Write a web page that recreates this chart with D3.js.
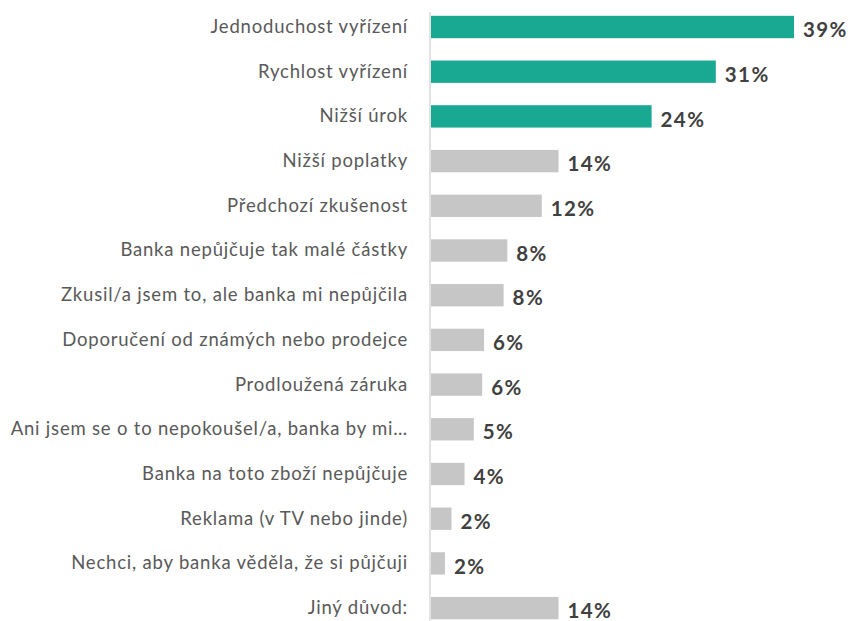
<!DOCTYPE html>
<html>
<head>
<meta charset="utf-8">
<script src="https://cdn.jsdelivr.net/npm/d3@7"></script>
<style>
	body { margin: 0; background: #fff; }
	.cat { font-family: Lato, sans-serif; font-size: 18.5px; letter-spacing: 0.8px; fill: #595959; }
	.val { font-family: Lato, sans-serif; font-size: 20.5px; letter-spacing: 1.4px; font-weight: bold; fill: #404040; }
</style>
</head>
<body>
<script>
// Data
var categories = [
	'Jednoduchost vyřízení',
	'Rychlost vyřízení',
	'Nižší úrok',
	'Nižší poplatky',
	'Předchozí zkušenost',
	'Banka nepůjčuje tak malé částky',
	'Zkusil/a jsem to, ale banka mi nepůjčila',
	'Doporučení od známých nebo prodejce',
	'Prodloužená záruka',
	'Ani jsem se o to nepokoušel/a, banka by mi…',
	'Banka na toto zboží nepůjčuje',
	'Reklama (v TV nebo jinde)',
	'Nechci, aby banka věděla, že si půjčuji',
	'Jiný důvod:'
];
var values = [39.0, 30.6, 23.7, 13.7, 11.9, 8.2, 7.8, 5.7, 5.5, 4.6, 3.6, 2.2, 1.5, 13.7];
var highlighted = [true, true, true, false, false, false, false, false, false, false, false, false, false, false];

// Variables
var width = 854;
var height = 621;
var margin = { top: 4.65, left: 430 };
var step = 44.7;
var formatPct = function(d) { return Math.round(d) + '%'; };

var svg = d3.select('body').append('svg')
			.attr('width', width)
			.attr('height', height);

// Scaling
var xScale = d3.scaleLinear()
				.domain([0, 39])
				.range([margin.left + 1, margin.left + 1 + 363]);
var yScale = d3.scaleBand()
				.domain(categories)
				.range([margin.top, margin.top + step * categories.length])
				.paddingInner(0.5)
				.paddingOuter(0.25);

// Bars
svg.selectAll('rect.bar')
		.data(values)
		.enter()
	.append('rect')
		.attr('class', 'bar')
		.attr('x', xScale(0))
		.attr('y', function(d, i) { return yScale(categories[i]); })
		.attr('width', function(d) { return xScale(d) - xScale(0); })
		.attr('height', yScale.bandwidth())
		.attr('fill', function(d, i) { return highlighted[i] ? '#19a892' : '#c6c6c6'; });

// Axis (left line + category labels)
var yAxis = d3.axisLeft(yScale).tickSize(0).tickPadding(22);
var gAxis = svg.append('g')
		.attr('transform', 'translate(' + margin.left + ',0)')
		.call(yAxis);
gAxis.select('.domain')
		.attr('d', 'M0,12V' + height)
		.attr('stroke', '#d9d9d9')
		.attr('stroke-width', 1.5);
gAxis.selectAll('text')
		.attr('class', 'cat')
		.attr('fill', null);
gAxis.attr('font-family', null).attr('font-size', null);

// Value labels
svg.selectAll('text.val')
		.data(values)
		.enter()
	.append('text')
		.attr('class', 'val')
		.attr('x', function(d) { return xScale(d) + 9; })
		.attr('y', function(d, i) { return yScale(categories[i]) + yScale.bandwidth() / 2 + 3; })
		.attr('dy', '0.35em')
		.text(formatPct);
</script>
</body>
</html>
